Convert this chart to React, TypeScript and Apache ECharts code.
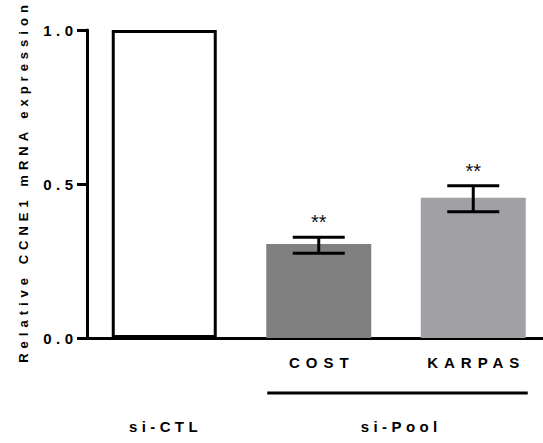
import React, { useEffect, useRef } from 'react';
import * as echarts from 'echarts';

// Relative CCNE1 mRNA expression after siRNA knock-down
const categories = ['si-CTL', 'COST', 'KARPAS'];
const tickLabels = ['', 'COST', 'KARPAS'];
const means = [1.0, 0.305, 0.455];
const errLow: (number | null)[] = [null, 0.275, 0.41];
const errHigh: (number | null)[] = [null, 0.327, 0.494];
const stars = ['', '**', '**'];
const barColors = ['#ffffff', '#808080', '#a1a0a5'];
const yMin = 0;
const yMax = 1.0;
const yStep = 0.5;
const yTitle = 'Relative CCNE1 mRNA expression';

// bracket groups drawn under the category labels
const groupNames = ['si-CTL', 'si-Pool'];
const groupFirst = [0, 1];
const groupLast = [0, 2];
const groupRule = [false, true];

const FONT = '"Liberation Sans", Arial, Helvetica, sans-serif';
const BAR_WIDTH = 105;

// tracking applied to the wide-set labels
const tracking: Record<string, number> = {
  '0.0': 4.5,
  '0.5': 4.5,
  '1.0': 4.5,
  [yTitle]: 5.0,
  COST: 6,
  KARPAS: 6,
  'si-CTL': 4.4,
  'si-Pool': 4.4,
};

function applyTracking(root: HTMLElement) {
  root.querySelectorAll('text').forEach((t) => {
    const s = tracking[t.textContent ?? ''];
    if (s == null) return;
    t.setAttribute('letter-spacing', String(s));
    const anchor = t.getAttribute('text-anchor') || 'start';
    const shift = anchor === 'middle' ? s / 2 : anchor === 'end' ? s : 0;
    t.setAttribute('dx', String(shift));
  });
}

export default function App() {
  const ref = useRef<HTMLDivElement>(null);

  useEffect(() => {
    if (!ref.current) return;
    const chart = echarts.init(ref.current, undefined, { renderer: 'svg' });

    const errData = categories
      .map((_, i) => (errLow[i] == null ? null : [i, errLow[i], errHigh[i]]))
      .filter((d) => d !== null);

    chart.setOption({
      animation: false,
      backgroundColor: '#ffffff',
      grid: { left: 87, top: 30, height: 308, width: 463.5, outerBoundsMode: 'none' },
      xAxis: {
        type: 'category',
        data: categories,
        axisLine: { lineStyle: { color: '#000', width: 3 } },
        axisTick: { alignWithLabel: true, length: 9, lineStyle: { color: '#000', width: 2.5 } },
        axisLabel: {
          formatter: (_: string, i: number) => tickLabels[i],
          margin: 17,
          color: '#000',
          fontFamily: FONT,
          fontSize: 15,
          fontWeight: 'bold',
        },
      },
      yAxis: {
        type: 'value',
        min: yMin,
        max: yMax,
        interval: yStep,
        splitLine: { show: false },
        axisLine: { show: true, lineStyle: { color: '#000', width: 3 } },
        axisTick: { show: true, length: 10, lineStyle: { color: '#000', width: 3 } },
        axisLabel: {
          formatter: (v: number) => v.toFixed(1),
          margin: 14,
          color: '#000',
          fontFamily: FONT,
          fontSize: 15,
          fontWeight: 'bold',
        },
        name: yTitle,
        nameLocation: 'middle',
        nameGap: 57,
        nameTextStyle: { color: '#000', fontFamily: FONT, fontSize: 13, fontWeight: 'bold' },
      },
      series: [
        {
          type: 'bar',
          barWidth: BAR_WIDTH,
          data: means.map((v, i) => ({
            value: v,
            itemStyle: {
              color: barColors[i],
              borderColor: i === 0 ? '#000' : barColors[i],
              borderWidth: i === 0 ? 3 : 0,
            },
          })),
        },
        {
          type: 'custom',
          z: 3,
          encode: { x: 0, y: [1, 2] },
          data: errData,
          renderItem: (_params: any, api: any) => {
            const i = api.value(0);
            const top = api.coord([i, api.value(2)]);
            const bot = api.coord([i, api.value(1)]);
            const half = 26;
            const style = { stroke: '#000', lineWidth: 3 };
            return {
              type: 'group',
              children: [
                { type: 'line', shape: { x1: top[0], y1: top[1], x2: bot[0], y2: bot[1] }, style },
                { type: 'line', shape: { x1: top[0] - half, y1: top[1], x2: top[0] + half, y2: top[1] }, style },
                { type: 'line', shape: { x1: bot[0] - half, y1: bot[1], x2: bot[0] + half, y2: bot[1] }, style },
                {
                  type: 'text',
                  x: top[0],
                  y: top[1] - 15,
                  style: {
                    text: stars[i],
                    fill: '#111',
                    fontFamily: FONT,
                    fontSize: 20,
                    align: 'center',
                    verticalAlign: 'middle',
                  },
                },
              ],
            };
          },
        },
      ],
    });

    // group captions and bracket line below the axis, placed through the category scale
    const cx = (i: number) => chart.convertToPixel({ xAxisIndex: 0 }, categories[i]) as number;
    const graphics: any[] = [];
    groupNames.forEach((name, g) => {
      const a = cx(groupFirst[g]);
      const b = cx(groupLast[g]);
      const spans = groupFirst[g] !== groupLast[g];
      graphics.push({
        type: 'text',
        x: (a + b) / 2 + (spans ? 3 : -1),
        y: 426,
        style: {
          text: name,
          fill: '#000',
          fontFamily: FONT,
          fontSize: 15,
          fontWeight: 'bold',
          align: 'center',
          verticalAlign: 'middle',
        },
      });
      if (groupRule[g]) {
        graphics.push({
          type: 'line',
          shape: { x1: a - BAR_WIDTH / 2 + 1, y1: 393, x2: b + BAR_WIDTH / 2 + 2, y2: 393 },
          style: { stroke: '#000', lineWidth: 3 },
        });
      }
    });
    chart.setOption({ graphic: graphics });

    const root = ref.current;
    applyTracking(root);
    chart.on('finished', () => applyTracking(root));
    const raf = requestAnimationFrame(() => applyTracking(root));

    return () => {
      cancelAnimationFrame(raf);
      chart.dispose();
    };
  }, []);

  return (
    <div
      ref={ref}
      style={{ position: 'fixed', left: 0, top: 0, width: 543, height: 443, background: '#fff' }}
    />
  );
}
